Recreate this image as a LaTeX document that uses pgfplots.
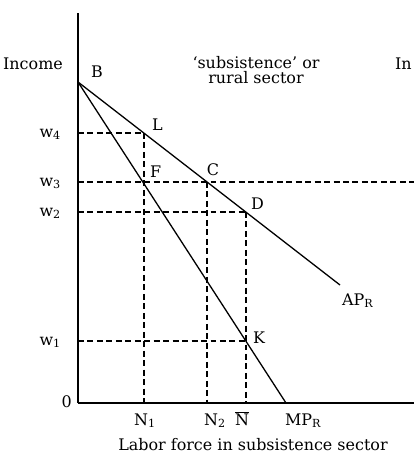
\documentclass[border=0pt]{standalone}
\usepackage{fontspec}
\setmainfont{DejaVu Serif}
\usepackage{pgfplots}
\pgfplotsset{compat=1.18}

% pixel-based data units: x = px - 78, y = 403 - py
\pgfplotstableread{
x y
0 321
262 118
}\apline
\pgfplotstableread{
x y
0 321
208 0
}\mpline

\begin{document}
\begin{tikzpicture}[every node/.style={font=\fontsize{16}{19}\selectfont, inner sep=0pt}]
\useasboundingbox (-78bp,-51bp) rectangle (336bp,403bp);
\begin{axis}[
  at={(0,0)}, anchor=south west,
  x=1bp, y=1bp,
  xmin=0, xmax=336, ymin=0, ymax=390,
  enlargelimits=false,
  axis lines=left,
  axis line style={-, line width=1.4pt},
  xtick=\empty, ytick=\empty,
  clip=false,
]
% dashed guide lines
\pgfplotsset{guide/.style={black, line width=1.1pt, dash pattern=on 6pt off 3.5pt}}
\addplot[guide] coordinates {(0,270) (66,270)};
\addplot[guide] coordinates {(66,270) (66,0)};
\addplot[guide] coordinates {(0,221) (336,221)};
\addplot[guide] coordinates {(129,221) (129,0)};
\addplot[guide] coordinates {(0,191) (168,191)};
\addplot[guide] coordinates {(168,191) (168,0)};
\addplot[guide] coordinates {(0,62) (168,62)};
% average and marginal product curves
\addplot[black, line width=1.3pt] table {\apline};
\addplot[black, line width=1.3pt] table {\mpline};

% text
\node[anchor=base] at (axis cs:-45,334) {Income};
\node[anchor=base] at (axis cs:178,335) {`subsistence' or};
\node[anchor=base] at (axis cs:178,320) {rural sector};
\node[anchor=base west] at (axis cs:317,334) {In};
\node[anchor=base west] at (axis cs:13,326) {B};
\node[anchor=base west] at (axis cs:74,273) {L};
\node[anchor=base west] at (axis cs:72,226) {F};
\node[anchor=base] at (axis cs:135,228) {C};
\node[anchor=base west] at (axis cs:173,194) {D};
\node[anchor=base west] at (axis cs:175,60) {K};
\node[anchor=base west] at (axis cs:264,98) {AP\textsubscript{R}};

\node[anchor=base east] at (axis cs:-17,266) {w\textsubscript{4}};
\node[anchor=base east] at (axis cs:-17,217) {w\textsubscript{3}};
\node[anchor=base east] at (axis cs:-17,187) {w\textsubscript{2}};
\node[anchor=base east] at (axis cs:-17,58) {w\textsubscript{1}};
\node[anchor=base east] at (axis cs:-6,-4) {0};

\node[anchor=base] at (axis cs:67,-22) {N\textsubscript{1}};
\node[anchor=base] at (axis cs:137,-22) {N\textsubscript{2}};
\node[anchor=base] at (axis cs:164,-22) {$\overline{\hbox{N}}$};
\node[anchor=base] at (axis cs:225,-22) {MP\textsubscript{R}};
\node[anchor=base] at (axis cs:175,-47) {Labor force in subsistence sector};
\end{axis}
\end{tikzpicture}
\end{document}
